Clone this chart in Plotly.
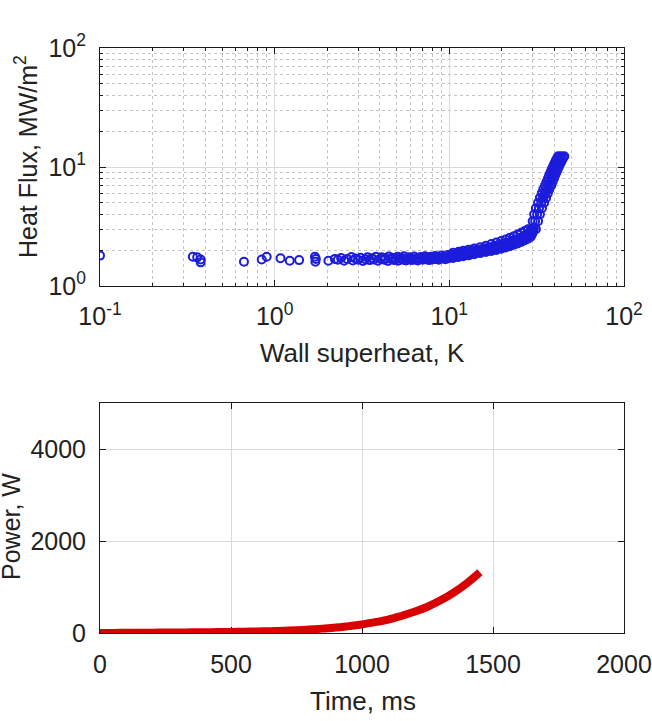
import plotly.graph_objects as go

# ---------------- data: top panel (boiling curve) ----------------
# sparse low-superheat points
sh_sparse = [0.1, 0.34, 0.36, 0.377, 0.377, 0.667, 0.843, 0.90, 1.08, 1.22, 1.38,
             1.70, 1.71, 1.72, 2.03, 2.21]
hf_sparse = [1.80, 1.76, 1.74, 1.67, 1.58, 1.60, 1.67, 1.76, 1.71, 1.63, 1.65,
             1.76, 1.60, 1.69, 1.63, 1.69]

# dense nucleate-boiling plateau (2.2 - 10 K)
sh_plateau = [2.3, 2.4, 2.5, 2.6, 2.75, 2.8, 2.9, 3.0, 3.1, 3.2, 3.3, 3.4, 3.5, 3.6, 3.7,
              3.8, 3.9, 4.05, 4.1, 4.25, 4.3, 4.45, 4.5, 4.65, 4.7, 4.85, 4.9, 5.05, 5.1,
              5.25, 5.3, 5.45, 5.5, 5.65, 5.7, 5.85, 5.9, 6.1, 6.15, 6.3, 6.35, 6.55, 6.6,
              6.75, 6.85, 7.05, 7.1, 7.25, 7.4, 7.5, 7.65, 7.8, 7.85, 8.0, 8.1, 8.3, 8.4,
              8.6, 8.7, 8.9, 9.0, 9.2, 9.3, 9.5, 9.6, 9.8, 9.9]
hf_plateau = [1.66, 1.72, 1.63, 1.69, 1.75, 1.64, 1.70, 1.66, 1.73, 1.62, 1.68, 1.74, 1.65,
              1.71, 1.67, 1.76, 1.63, 1.69, 1.74, 1.66, 1.71, 1.62, 1.77, 1.68, 1.73, 1.65,
              1.70, 1.76, 1.63, 1.69, 1.73, 1.66, 1.78, 1.64, 1.71, 1.68, 1.74, 1.65, 1.70,
              1.77, 1.67, 1.72, 1.64, 1.69, 1.75, 1.66, 1.71, 1.78, 1.68, 1.74, 1.65, 1.70,
              1.76, 1.67, 1.73, 1.79, 1.69, 1.75, 1.66, 1.72, 1.80, 1.70, 1.76, 1.68, 1.74,
              1.82, 1.71]

# gradual rise (10 - 30 K)
sh_rise = [10.2, 10.3, 10.6, 10.7, 11.0, 11.1, 11.4, 11.5, 11.8, 11.9, 12.2, 12.3, 12.7,
           12.8, 13.2, 13.3, 13.7, 13.8, 14.2, 14.3, 14.8, 14.9, 15.3, 15.4, 15.9, 16.0,
           16.5, 16.6, 17.1, 17.2, 17.7, 17.8, 18.3, 18.4, 18.9, 19.0, 19.5, 19.6, 20.1,
           20.2, 20.7, 20.8, 21.3, 21.4, 21.9, 22.0, 22.5, 22.6, 23.1, 23.2, 23.7, 23.8,
           24.3, 24.4, 24.9, 25.0, 25.5, 25.6, 26.1, 26.2, 26.7, 26.8, 27.3, 27.4, 27.9,
           28.0, 28.5, 28.6, 29.1, 29.2, 29.7, 29.8, 29.0, 29.5, 30.0, 30.5, 30.3,
           10.5, 11.3, 12.0, 12.9, 13.9, 15.0, 16.2, 17.4, 18.6, 19.8, 21.0, 22.2, 23.4,
           24.6, 25.8, 27.0, 28.2,
           10.5, 11.3, 12.0, 12.9, 13.9, 15.0, 16.2, 17.4, 18.6, 19.8, 21.0, 22.2, 23.4,
           24.6, 25.8, 27.0, 28.2, 29.3]
hf_rise = [1.77, 1.84, 1.74, 1.81, 1.86, 1.77, 1.83, 1.90, 1.79, 1.86, 1.92, 1.82, 1.88,
           1.95, 1.85, 1.91, 1.98, 1.88, 1.94, 2.01, 1.91, 1.97, 2.04, 1.94, 2.00, 2.08,
           1.97, 2.04, 2.11, 2.00, 2.08, 2.15, 2.04, 2.11, 2.19, 2.07, 2.15, 2.23, 2.11,
           2.19, 2.27, 2.15, 2.23, 2.31, 2.20, 2.28, 2.36, 2.24, 2.32, 2.41, 2.29, 2.37,
           2.46, 2.34, 2.43, 2.52, 2.40, 2.49, 2.58, 2.46, 2.55, 2.64, 2.52, 2.62, 2.72,
           2.58, 2.69, 2.80, 2.66, 2.77, 2.90, 2.74, 2.85, 2.75, 2.85, 3.10, 2.90,
           1.90, 1.94, 1.98, 2.02, 2.07, 2.12, 2.18, 2.25, 2.32, 2.39, 2.46, 2.54, 2.62,
           2.71, 2.80, 2.90, 3.00,
           1.72, 1.75, 1.78, 1.81, 1.85, 1.89, 1.93, 1.97, 2.01, 2.06, 2.11, 2.16, 2.22,
           2.28, 2.35, 2.42, 2.50, 2.60]

# steep rise (30 - 46 K), three overlapping tracks of the band
hf_track = [3.0, 3.5, 4.0, 4.5, 5.0, 5.5, 6.0, 6.5, 7.0, 7.5, 8.0, 8.5, 9.0, 9.5,
            10.0, 10.5, 11.0, 11.5, 12.0, 12.3]
sh_track_left = [29.4, 30.0, 30.6, 31.3, 32.2, 33.0, 33.8, 34.5, 35.3, 36.0, 36.7, 37.3,
                 37.9, 38.5, 39.1, 39.7, 40.3, 40.9, 41.6, 42.0]
sh_track_mid = [30.3, 31.0, 31.8, 32.6, 33.6, 34.4, 35.2, 36.0, 36.8, 37.5, 38.2, 38.8,
                39.4, 40.0, 40.7, 41.3, 42.0, 42.6, 43.3, 43.8]
sh_track_right = [31.3, 32.2, 33.0, 33.9, 34.9, 35.8, 36.6, 37.4, 38.3, 39.0, 39.7, 40.3,
                  41.0, 41.6, 42.3, 42.9, 43.7, 44.3, 45.0, 45.5]

superheat_K = (sh_sparse + sh_plateau + sh_rise
               + sh_track_left + sh_track_mid + sh_track_right)
heat_flux_MWm2 = (hf_sparse + hf_plateau + hf_rise
                  + hf_track + hf_track + hf_track)

# ---------------- data: bottom panel (power trace) ----------------
time_ms = [0, 50, 100, 150, 200, 250, 300, 350, 400, 450, 500, 550, 600, 650, 700,
           750, 800, 850, 900, 950, 1000, 1050, 1100, 1150, 1200, 1250, 1300, 1350,
           1400, 1450]
power_W = [0, 2, 4, 6, 8, 10, 12, 14, 17, 20, 24, 28, 33, 40, 48,
           60, 75, 95, 118, 150, 185, 235, 290, 370, 460, 570, 710, 880,
           1080, 1320]

# ---------------- tick labels ----------------
log_tick_vals_x = [0.1, 1, 10, 100]
log_tick_text_x = ["10<sup>-1</sup>", "10<sup>0</sup>", "10<sup>1</sup>", "10<sup>2</sup>"]
log_tick_vals_y = [1, 10, 100]
log_tick_text_y = ["10<sup>0</sup>", "10<sup>1</sup>", "10<sup>2</sup>"]
time_ticks = [0, 500, 1000, 1500, 2000]
power_ticks = [0, 2000, 4000]

minor_x = [m * 10 ** e for e in (-1, 0, 1) for m in range(2, 10)]
minor_y = [m * 10 ** e for e in (0, 1) for m in range(2, 10)]

W, H = 652, 721
XD = [100 / W, 624 / W]
TOP_D = [1 - 286 / H, 1 - 48 / H]
BOT_D = [1 - 633 / H, 1 - 403 / H]

FONT = "Liberation Sans, Arial, sans-serif"
AXC = "#1a1a1a"
GRID = "#d9d9d9"
MINOR_GRID = "#c4c4c4"
TXT = "#222222"

fig = go.Figure()
fig.add_trace(go.Scatter(
    x=superheat_K, y=heat_flux_MWm2, mode="markers",
    marker=dict(symbol="circle-open", size=8, color="#1c1cdc", line=dict(width=2)),
    xaxis="x", yaxis="y", showlegend=False))
fig.add_trace(go.Scatter(
    x=time_ms, y=power_W, mode="lines",
    line=dict(color="#d80000", width=8, shape="spline"),
    xaxis="x2", yaxis="y2", showlegend=False))

common = dict(showline=True, linecolor=AXC, linewidth=1, mirror="allticks",
              ticks="inside", tickcolor=AXC, automargin=False, zeroline=False,
              tickfont=dict(family=FONT, size=25, color=TXT))

fig.update_layout(
    width=W, height=H, margin=dict(l=0, r=0, t=0, b=0),
    paper_bgcolor="white", plot_bgcolor="white",
    font=dict(family=FONT, color=TXT),
    xaxis=dict(type="log", domain=XD, range=[-1, 2], anchor="y",
               tickmode="array", tickvals=log_tick_vals_x, ticktext=log_tick_text_x,
               ticklen=6, showgrid=True, gridcolor=GRID, ticklabelstandoff=8,
               minor=dict(tickmode="array", tickvals=minor_x, ticks="inside", ticklen=3,
                          tickcolor=AXC, showgrid=True, gridcolor=MINOR_GRID,
                          griddash="dot", gridwidth=1),
               **common),
    yaxis=dict(type="log", domain=TOP_D, range=[0, 2], anchor="x",
               tickmode="array", tickvals=log_tick_vals_y, ticktext=log_tick_text_y,
               ticklen=6, showgrid=True, gridcolor=GRID, ticklabelstandoff=8,
               minor=dict(tickmode="array", tickvals=minor_y, ticks="inside", ticklen=3,
                          tickcolor=AXC, showgrid=True, gridcolor=MINOR_GRID,
                          griddash="dot", gridwidth=1),
               **common),
    xaxis2=dict(domain=XD, range=[0, 2000], anchor="y2",
                tickmode="array", tickvals=time_ticks, ticklen=6,
                showgrid=True, gridcolor=GRID, ticklabelstandoff=9, **common),
    yaxis2=dict(domain=BOT_D, range=[0, 5000], anchor="x2",
                tickmode="array", tickvals=power_ticks, ticklen=6,
                showgrid=True, gridcolor=GRID, ticklabelstandoff=8, **common),
    annotations=[
        dict(text="Heat Flux, MW/m<sup>2</sup>", xref="paper", yref="paper",
             x=26 / W, y=1 - 157 / H, textangle=-90, showarrow=False,
             xanchor="center", yanchor="middle", font=dict(family=FONT, size=25, color=TXT)),
        dict(text="Wall superheat, K", xref="paper", yref="paper",
             x=362 / W, y=1 - 353 / H, showarrow=False,
             xanchor="center", yanchor="middle", font=dict(family=FONT, size=26, color=TXT)),
        dict(text="Power, W", xref="paper", yref="paper",
             x=11 / W, y=1 - 527 / H, textangle=-90, showarrow=False,
             xanchor="center", yanchor="middle", font=dict(family=FONT, size=25, color=TXT)),
        dict(text="Time, ms", xref="paper", yref="paper",
             x=363 / W, y=1 - 701 / H, showarrow=False,
             xanchor="center", yanchor="middle", font=dict(family=FONT, size=26, color=TXT)),
    ],
)

fig.write_html("out.html", config={"displayModeBar": False},
               post_script="document.body.style.margin='0';document.body.style.overflow='hidden';")
